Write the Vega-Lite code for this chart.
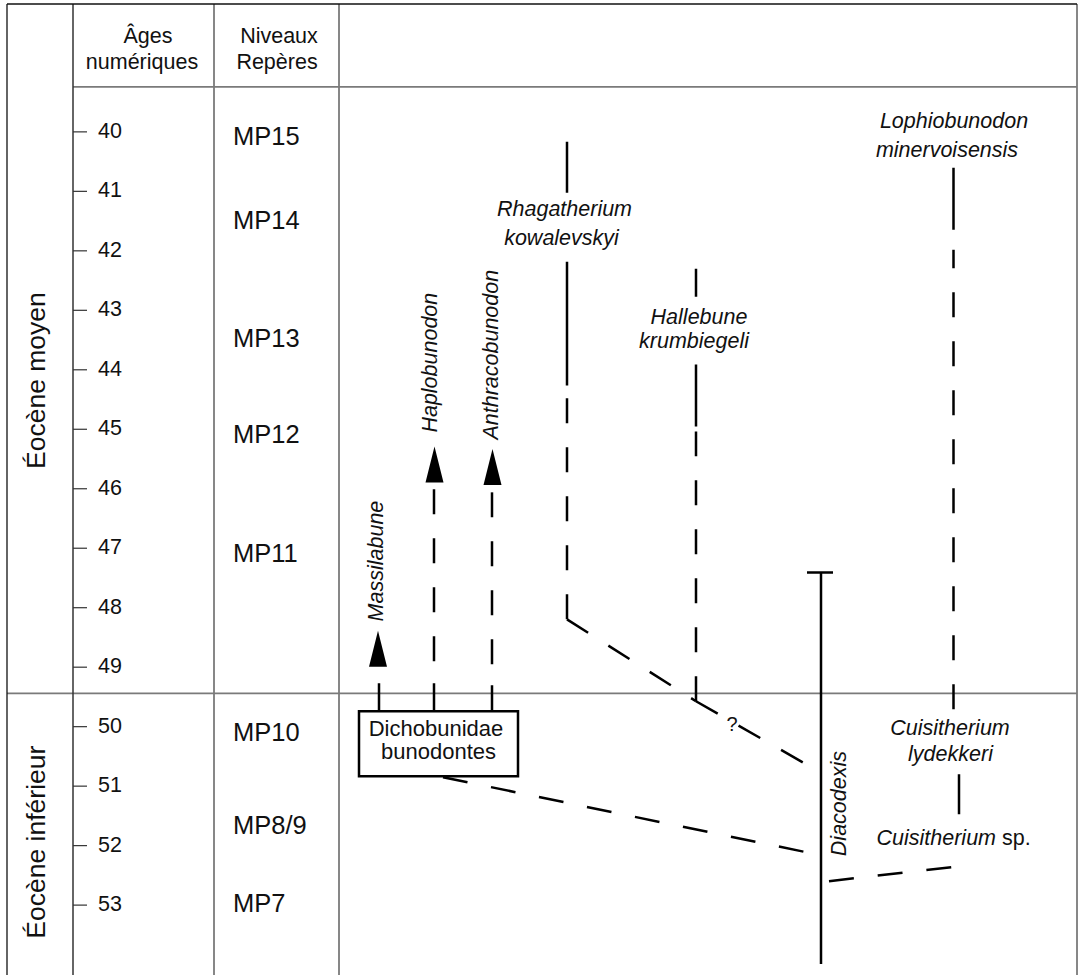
{
  "$schema": "https://vega.github.io/schema/vega-lite/v6.json",
  "width": 1083,
  "height": 976,
  "autosize": {"type": "fit", "contains": "padding"},
  "padding": 0,
  "background": "white",
  "config": {"view": {"stroke": null}, "font": "Liberation Sans"},
  "datasets": {
    "frame": [
      {"part": "outer", "x": 7, "x2": 1077, "y": 37.85, "y2": 37.85},
      {"part": "outer", "x": 7, "x2": 7, "y": 37.85, "y2": 54.175},
      {"part": "axis", "x": 73, "x2": 73, "y": 37.85, "y2": 54.175},
      {"part": "divider", "x": 214, "x2": 214, "y": 37.85, "y2": 54.175},
      {"part": "divider", "x": 339, "x2": 339, "y": 37.85, "y2": 54.175},
      {"part": "divider", "x": 1077, "x2": 1077, "y": 37.85, "y2": 54.175},
      {"part": "divider", "x": 73, "x2": 1077, "y": 39.244, "y2": 39.244},
      {"part": "divider", "x": 7, "x2": 1077, "y": 49.439, "y2": 49.439}
    ],
    "ticks": [
      {"age": 40}, {"age": 41}, {"age": 42}, {"age": 43}, {"age": 44}, {"age": 45}, {"age": 46},
      {"age": 47}, {"age": 48}, {"age": 49}, {"age": 50}, {"age": 51}, {"age": 52}, {"age": 53}
    ],
    "header": [
      {"text": "Âges", "x": 148, "age": 38.505},
      {"text": "numériques", "x": 142, "age": 38.942},
      {"text": "Niveaux", "x": 279, "age": 38.505},
      {"text": "Repères", "x": 277, "age": 38.942}
    ],
    "mp": [
      {"label": "MP15", "age": 40.084},
      {"label": "MP14", "age": 41.495},
      {"label": "MP13", "age": 43.477},
      {"label": "MP12", "age": 45.089},
      {"label": "MP11", "age": 47.104},
      {"label": "MP10", "age": 50.111},
      {"label": "MP8/9", "age": 51.673},
      {"label": "MP7", "age": 52.983}
    ],
    "epochs": [
      {"label": "Éocène moyen", "age": 44.182},
      {"label": "Éocène inférieur", "age": 51.942}
    ],
    "segments": [
      {"taxon": "Massilabune", "x": 379, "y": 49.741, "x2": 379, "y2": 49.271, "certainty": "attested"},
      {"taxon": "Haplobunodon", "x": 434, "y": 49.741, "x2": 434, "y2": 49.271, "certainty": "attested"},
      {"taxon": "Haplobunodon", "x": 434, "y": 48.901, "x2": 434, "y2": 45.979, "certainty": "inferred"},
      {"taxon": "Anthracobunodon", "x": 492, "y": 49.741, "x2": 492, "y2": 49.305, "certainty": "attested"},
      {"taxon": "Anthracobunodon", "x": 492, "y": 48.952, "x2": 492, "y2": 46.013, "certainty": "inferred"},
      {"taxon": "Dichobunidae-Diacodexis", "x": 443, "y": 50.850, "x2": 806, "y2": 52.110, "certainty": "inferred"},
      {"taxon": "Rhagatherium", "x": 567, "y": 40.168, "x2": 567, "y2": 41.025, "certainty": "attested"},
      {"taxon": "Rhagatherium", "x": 567, "y": 42.183, "x2": 567, "y2": 44.266, "certainty": "attested"},
      {"taxon": "Rhagatherium", "x": 567, "y": 48.196, "x2": 567, "y2": 44.434, "certainty": "inferred"},
      {"taxon": "Rhagatherium-Hallebune", "x": 567, "y": 48.196, "x2": 696, "y2": 49.573, "certainty": "inferred"},
      {"taxon": "Hallebune", "x": 696, "y": 42.301, "x2": 696, "y2": 42.771, "certainty": "attested"},
      {"taxon": "Hallebune", "x": 696, "y": 43.913, "x2": 696, "y2": 44.955, "certainty": "attested"},
      {"taxon": "Hallebune", "x": 696, "y": 49.573, "x2": 696, "y2": 45.039, "certainty": "inferred"},
      {"taxon": "Hallebune-Diacodexis", "x": 696, "y": 49.573, "x2": 806, "y2": 50.631, "certainty": "inferred"},
      {"taxon": "Diacodexis", "x": 821, "y": 47.407, "x2": 821, "y2": 53.990, "certainty": "attested"},
      {"taxon": "Diacodexis", "x": 807, "y": 47.407, "x2": 833, "y2": 47.407, "certainty": "attested"},
      {"taxon": "Diacodexis-Cuisitherium", "x": 829, "y": 52.597, "x2": 952, "y2": 52.362, "certainty": "inferred"},
      {"taxon": "Lophiobunodon", "x": 953.5, "y": 40.605, "x2": 953.5, "y2": 41.646, "certainty": "attested"},
      {"taxon": "Lophiobunodon", "x": 953.5, "y": 49.708, "x2": 953.5, "y2": 41.982, "certainty": "inferred"},
      {"taxon": "Cuisitherium", "x": 959, "y": 50.799, "x2": 959, "y2": 51.471, "certainty": "attested"}
    ],
    "arrows": [
      {"taxon": "Massilabune", "x": 378, "age": 48.692},
      {"taxon": "Haplobunodon", "x": 434.5, "age": 45.593},
      {"taxon": "Anthracobunodon", "x": 492.5, "age": 45.635}
    ],
    "box": [
      {"group": "Dichobunidae bunodontes", "x": 359, "x2": 518, "y": 49.741, "y2": 50.833}
    ],
    "italicLabels": [
      {"text": "Rhagatherium", "x": 564.5, "age": 41.411},
      {"text": "kowalevskyi", "x": 561.5, "age": 41.898},
      {"text": "Hallebune", "x": 699, "age": 43.225},
      {"text": "krumbiegeli", "x": 694, "age": 43.628},
      {"text": "Lophiobunodon", "x": 954, "age": 39.933},
      {"text": "minervoisensis", "x": 947, "age": 40.420},
      {"text": "Cuisitherium", "x": 950, "age": 50.144},
      {"text": "lydekkeri", "x": 950.5, "age": 50.581}
    ],
    "verticalLabels": [
      {"text": "Massilabune", "x": 377, "age": 48.230},
      {"text": "Haplobunodon", "x": 431, "age": 45.056},
      {"text": "Anthracobunodon", "x": 492, "age": 45.173},
      {"text": "Diacodexis", "x": 840, "age": 52.177}
    ],
    "plainLabels": [
      {"text": "Dichobunidae", "x": 436, "age": 50.161},
      {"text": "bunodontes", "x": 438.5, "age": 50.547}
    ]
  },
  "layer": [
    {
      "data": {"name": "frame"},
      "transform": [{"filter": "datum.part === 'divider'"}],
      "mark": {"type": "rule", "color": "#7a7a7a", "strokeWidth": 1.8},
      "encoding": {
        "x": {"field": "x", "type": "quantitative", "scale": {"domain": [0, 1083], "nice": false, "zero": false}, "axis": null},
        "x2": {"field": "x2"},
        "y": {"field": "y", "type": "quantitative", "scale": {"domain": [37.783, 54.175], "nice": false, "zero": false, "reverse": true}, "axis": null},
        "y2": {"field": "y2"}
      }
    },
    {
      "data": {"name": "frame"},
      "transform": [{"filter": "datum.part === 'axis'"}],
      "mark": {"type": "rule", "color": "#333333", "strokeWidth": 1.5},
      "encoding": {
        "x": {"field": "x", "type": "quantitative", "scale": {"domain": [0, 1083], "nice": false, "zero": false}, "axis": null},
        "x2": {"field": "x2"},
        "y": {"field": "y", "type": "quantitative", "scale": {"domain": [37.783, 54.175], "nice": false, "zero": false, "reverse": true}, "axis": null},
        "y2": {"field": "y2"}
      }
    },
    {
      "data": {"name": "frame"},
      "transform": [{"filter": "datum.part === 'outer'"}],
      "mark": {"type": "rule", "color": "#111111", "strokeWidth": 1.3},
      "encoding": {
        "x": {"field": "x", "type": "quantitative", "scale": {"domain": [0, 1083], "nice": false, "zero": false}, "axis": null},
        "x2": {"field": "x2"},
        "y": {"field": "y", "type": "quantitative", "scale": {"domain": [37.783, 54.175], "nice": false, "zero": false, "reverse": true}, "axis": null},
        "y2": {"field": "y2"}
      }
    },
    {
      "data": {"name": "ticks"},
      "mark": {"type": "rule", "color": "#333333", "strokeWidth": 1.2},
      "encoding": {
        "x": {"datum": 73, "type": "quantitative", "scale": {"domain": [0, 1083], "nice": false, "zero": false}, "axis": null},
        "x2": {"datum": 87},
        "y": {"field": "age", "type": "quantitative", "scale": {"domain": [37.783, 54.175], "nice": false, "zero": false, "reverse": true}, "axis": null}
      }
    },
    {
      "data": {"name": "ticks"},
      "mark": {"type": "text", "align": "left", "baseline": "middle", "fontSize": 21.5, "color": "#111111"},
      "encoding": {
        "x": {"datum": 98, "type": "quantitative", "scale": {"domain": [0, 1083], "nice": false, "zero": false}, "axis": null},
        "y": {"field": "age", "type": "quantitative", "scale": {"domain": [37.783, 54.175], "nice": false, "zero": false, "reverse": true}, "axis": null},
        "text": {"field": "age", "type": "quantitative"}
      }
    },
    {
      "data": {"name": "header"},
      "mark": {"type": "text", "align": "center", "baseline": "alphabetic", "fontSize": 21.5, "color": "#111111"},
      "encoding": {
        "x": {"field": "x", "type": "quantitative", "scale": {"domain": [0, 1083], "nice": false, "zero": false}, "axis": null},
        "y": {"field": "age", "type": "quantitative", "scale": {"domain": [37.783, 54.175], "nice": false, "zero": false, "reverse": true}, "axis": null},
        "text": {"field": "text"}
      }
    },
    {
      "data": {"name": "mp"},
      "mark": {"type": "text", "align": "left", "baseline": "middle", "fontSize": 25.5, "color": "#111111"},
      "encoding": {
        "x": {"datum": 233, "type": "quantitative", "scale": {"domain": [0, 1083], "nice": false, "zero": false}, "axis": null},
        "y": {"field": "age", "type": "quantitative", "scale": {"domain": [37.783, 54.175], "nice": false, "zero": false, "reverse": true}, "axis": null},
        "text": {"field": "label"}
      }
    },
    {
      "data": {"name": "epochs"},
      "mark": {"type": "text", "align": "center", "baseline": "middle", "angle": 270, "fontSize": 26.5, "color": "#111111"},
      "encoding": {
        "x": {"datum": 37, "type": "quantitative", "scale": {"domain": [0, 1083], "nice": false, "zero": false}, "axis": null},
        "y": {"field": "age", "type": "quantitative", "scale": {"domain": [37.783, 54.175], "nice": false, "zero": false, "reverse": true}, "axis": null},
        "text": {"field": "label"}
      }
    },
    {
      "data": {"name": "segments"},
      "mark": {"type": "rule", "color": "#000000", "strokeWidth": 2.5},
      "encoding": {
        "x": {"field": "x", "type": "quantitative", "scale": {"domain": [0, 1083], "nice": false, "zero": false}, "axis": null},
        "x2": {"field": "x2"},
        "y": {"field": "y", "type": "quantitative", "scale": {"domain": [37.783, 54.175], "nice": false, "zero": false, "reverse": true}, "axis": null},
        "y2": {"field": "y2"},
        "strokeDash": {"field": "certainty", "type": "nominal", "scale": {"domain": ["attested", "inferred"], "range": [[1, 0], [25, 24]]}, "legend": null}
      }
    },
    {
      "data": {"name": "arrows"},
      "mark": {"type": "point", "shape": "M0,-1L0.5,1L-0.5,1Z", "size": 1296, "filled": true, "color": "#000000", "opacity": 1, "strokeWidth": 0},
      "encoding": {
        "x": {"field": "x", "type": "quantitative", "scale": {"domain": [0, 1083], "nice": false, "zero": false}, "axis": null},
        "y": {"field": "age", "type": "quantitative", "scale": {"domain": [37.783, 54.175], "nice": false, "zero": false, "reverse": true}, "axis": null}
      }
    },
    {
      "data": {"name": "box"},
      "mark": {"type": "rect", "fill": "white", "stroke": "#000000", "strokeWidth": 2.5},
      "encoding": {
        "x": {"field": "x", "type": "quantitative", "scale": {"domain": [0, 1083], "nice": false, "zero": false}, "axis": null},
        "x2": {"field": "x2"},
        "y": {"field": "y", "type": "quantitative", "scale": {"domain": [37.783, 54.175], "nice": false, "zero": false, "reverse": true}, "axis": null},
        "y2": {"field": "y2"}
      }
    },
    {
      "data": {"name": "plainLabels"},
      "mark": {"type": "text", "align": "center", "baseline": "alphabetic", "fontSize": 22, "color": "#111111"},
      "encoding": {
        "x": {"field": "x", "type": "quantitative", "scale": {"domain": [0, 1083], "nice": false, "zero": false}, "axis": null},
        "y": {"field": "age", "type": "quantitative", "scale": {"domain": [37.783, 54.175], "nice": false, "zero": false, "reverse": true}, "axis": null},
        "text": {"field": "text"}
      }
    },
    {
      "data": {"name": "italicLabels"},
      "mark": {"type": "text", "align": "center", "baseline": "alphabetic", "fontSize": 21.5, "fontStyle": "italic", "color": "#111111"},
      "encoding": {
        "x": {"field": "x", "type": "quantitative", "scale": {"domain": [0, 1083], "nice": false, "zero": false}, "axis": null},
        "y": {"field": "age", "type": "quantitative", "scale": {"domain": [37.783, 54.175], "nice": false, "zero": false, "reverse": true}, "axis": null},
        "text": {"field": "text"}
      }
    },
    {
      "data": {"name": "verticalLabels"},
      "mark": {"type": "text", "align": "left", "baseline": "middle", "angle": 270, "fontSize": 21.5, "fontStyle": "italic", "color": "#111111"},
      "encoding": {
        "x": {"field": "x", "type": "quantitative", "scale": {"domain": [0, 1083], "nice": false, "zero": false}, "axis": null},
        "y": {"field": "age", "type": "quantitative", "scale": {"domain": [37.783, 54.175], "nice": false, "zero": false, "reverse": true}, "axis": null},
        "text": {"field": "text"}
      }
    },
    {
      "data": {"values": [{"text": "Cuisitherium", "age": 51.992}]},
      "mark": {"type": "text", "align": "right", "baseline": "alphabetic", "fontSize": 21.5, "fontStyle": "italic", "color": "#111111"},
      "encoding": {
        "x": {"datum": 996, "type": "quantitative", "scale": {"domain": [0, 1083], "nice": false, "zero": false}, "axis": null},
        "y": {"field": "age", "type": "quantitative", "scale": {"domain": [37.783, 54.175], "nice": false, "zero": false, "reverse": true}, "axis": null},
        "text": {"field": "text"}
      }
    },
    {
      "data": {"values": [{"text": "sp.", "age": 51.992}]},
      "mark": {"type": "text", "align": "left", "baseline": "alphabetic", "fontSize": 21.5, "color": "#111111"},
      "encoding": {
        "x": {"datum": 1002, "type": "quantitative", "scale": {"domain": [0, 1083], "nice": false, "zero": false}, "axis": null},
        "y": {"field": "age", "type": "quantitative", "scale": {"domain": [37.783, 54.175], "nice": false, "zero": false, "reverse": true}, "axis": null},
        "text": {"field": "text"}
      }
    },
    {
      "data": {"values": [{"text": "?", "age": 50.077}]},
      "mark": {"type": "text", "align": "center", "baseline": "alphabetic", "fontSize": 20, "color": "#111111"},
      "encoding": {
        "x": {"datum": 732, "type": "quantitative", "scale": {"domain": [0, 1083], "nice": false, "zero": false}, "axis": null},
        "y": {"field": "age", "type": "quantitative", "scale": {"domain": [37.783, 54.175], "nice": false, "zero": false, "reverse": true}, "axis": null},
        "text": {"field": "text"}
      }
    }
  ]
}
